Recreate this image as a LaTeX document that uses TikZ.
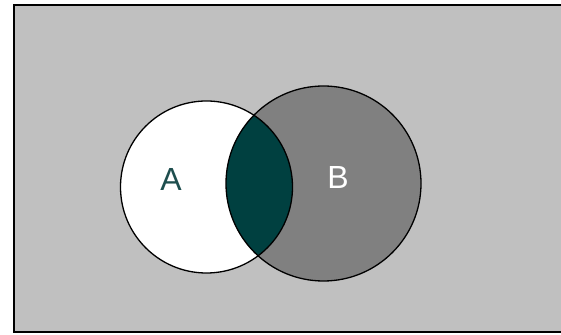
\documentclass[tikz,border=0pt]{standalone}
\usepackage{fontspec}
\setmainfont{Liberation Sans}
\definecolor{panelgray}{HTML}{C0C0C0}
\definecolor{setbgray}{HTML}{808080}
\definecolor{lensteal}{HTML}{004040}
\definecolor{labelteal}{HTML}{1E4E4E}

\begin{document}
\begin{tikzpicture}[
    x=1pt, y=1pt,
    setline/.style={draw=black, line width=1.3pt},
    setlabel/.style={font=\fontsize{32}{32}\selectfont, inner sep=0pt}
  ]
    \useasboundingbox (0,0) rectangle (561,334);
    \clip (0,0) rectangle (561,334);
    % panel (right edge runs off the picture)
    \draw[fill=panelgray, line width=2pt] (14,2) rectangle (620,329);
    \coordinate (cA) at (206.5,147);
    \coordinate (cB) at (323.5,150.5);
    % fills
    \fill[white] (cA) circle (86);
    \fill[setbgray] (cB) circle (97.5);
    \begin{scope}
      \clip (cA) circle (86);
      \fill[lensteal] (cB) circle (97.5);
    \end{scope}
    % outlines
    \draw[setline] (cA) circle (86);
    \draw[setline] (cB) circle (97.5);
    \node[setlabel, text=labelteal] (labelA) at (171,155) {A};
    \node[setlabel, text=white] (labelB) at (338,157) {B};
  \end{tikzpicture}
\end{document}
